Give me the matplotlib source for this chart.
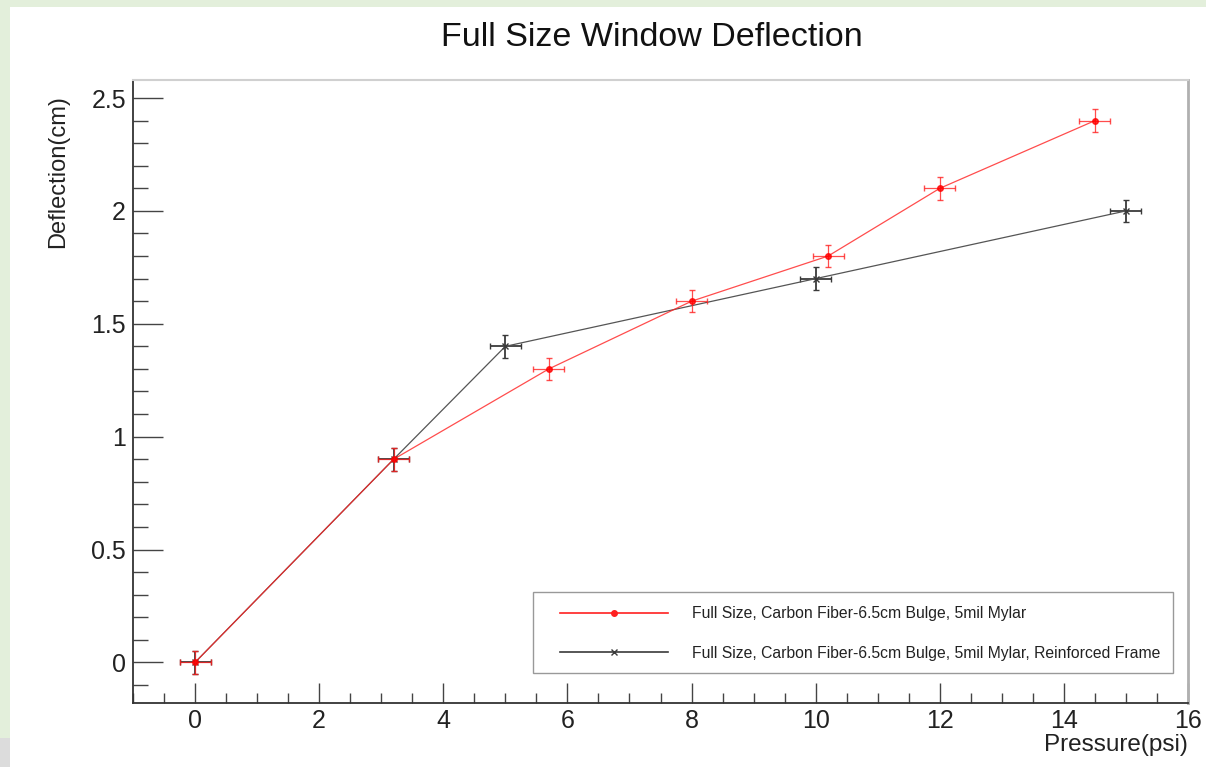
import matplotlib.pyplot as plt
from matplotlib.lines import Line2D
from matplotlib.patches import Rectangle
from matplotlib.ticker import MultipleLocator

plt.rcParams['font.family'] = ['Liberation Sans', 'DejaVu Sans']

# data
p_cf = [0, 3.2, 5.7, 8, 10.2, 12, 14.5]
d_cf = [0, 0.9, 1.3, 1.6, 1.8, 2.1, 2.4]
p_rf = [0, 3.2, 5, 10, 15]
d_rf = [0, 0.9, 1.4, 1.7, 2.0]
p_err = 0.25
d_err = 0.05

label_cf = 'Full Size, Carbon Fiber-6.5cm Bulge, 5mil Mylar'
label_rf = 'Full Size, Carbon Fiber-6.5cm Bulge, 5mil Mylar, Reinforced Frame'

fig = plt.figure(figsize=(12.06, 7.67), dpi=100)
fig.patch.set_facecolor('#e3efdb')
# white canvas inside the green border
fig.patches.append(Rectangle((10 / 1206, 0), 1, 1 - 7 / 767, transform=fig.transFigure,
                             facecolor='white', edgecolor='none', zorder=-10))
fig.patches.append(Rectangle((0, 0), 10 / 1206, 29 / 767, transform=fig.transFigure,
                             facecolor='#dcdcdc', edgecolor='none', zorder=-10))

ax = fig.add_axes([133 / 1206, 1 - 703 / 767, 1055 / 1206, 623 / 767])

red = '#ff2020'
blk = '#3a3a3a'

# black (reinforced frame) series
ax.errorbar(p_rf, d_rf, xerr=p_err, yerr=d_err, fmt='none', ecolor=blk,
            elinewidth=1.3, capsize=2, capthick=1, zorder=3)
ax.plot(p_rf, d_rf, color='#555555', lw=0.9, marker='x', ms=4, mew=1, mec=blk, zorder=3)

# red series
ax.errorbar(p_cf, d_cf, xerr=p_err, yerr=d_err, fmt='none', ecolor=red,
            elinewidth=0.9, capsize=2, capthick=1, alpha=0.8, zorder=4)
ax.plot(p_cf, d_cf, color=red, lw=0.9, alpha=0.8, marker='o', ms=4,
        mfc='red', mec='red', zorder=4)

ax.set_xlim(-1, 16)
ax.set_ylim(-0.18, 2.58)

ax.xaxis.set_major_locator(MultipleLocator(2))
ax.xaxis.set_minor_locator(MultipleLocator(0.5))
ax.yaxis.set_major_locator(MultipleLocator(0.5))
ax.yaxis.set_minor_locator(MultipleLocator(0.1))
ax.yaxis.set_major_formatter(plt.FuncFormatter(lambda v, _: f'{v:g}'))

ax.tick_params(axis='x', which='major', direction='in', length=14.4, width=1,
               color='#444444', labelsize=18, pad=4)
ax.tick_params(axis='x', which='minor', direction='in', length=7.2, width=1, color='#444444')
ax.tick_params(axis='y', which='major', direction='in', length=21.6, width=1,
               color='#444444', labelsize=18, pad=5)
ax.tick_params(axis='y', which='minor', direction='in', length=10.8, width=1, color='#444444')
ax.tick_params(top=False, right=False, which='both', labelcolor='#222222')

ax.spines['left'].set_color('#333333')
ax.spines['bottom'].set_color('#333333')
ax.spines['left'].set_linewidth(1.3)
ax.spines['bottom'].set_linewidth(1.3)
ax.spines['top'].set_color('#d0d0d0')
ax.spines['top'].set_linewidth(1.5)
ax.spines['right'].set_color('#b0b0b0')
ax.spines['right'].set_linewidth(2)

fig.text(652 / 1206, 1 - 38 / 767, 'Full Size Window Deflection', ha='center', va='center',
         fontsize=24.5, color='#111111')
ax.text(-0.071, 0.976, 'Deflection(cm)', rotation=90, ha='center', va='top',
        transform=ax.transAxes, fontsize=17, color='#222222')
ax.text(1.0, -0.068, 'Pressure(psi)', ha='right', va='center',
        transform=ax.transAxes, fontsize=17.5, color='#222222')

# legend frame drawn separately so the entries can sit further in from the left edge
ax.add_patch(Rectangle((0.379, 0.048), 0.607, 0.130, transform=ax.transAxes,
                       facecolor='white', edgecolor='#999999', lw=1, zorder=5))
handles = [Line2D([], [], color=red, lw=1.2, marker='o', ms=4),
           Line2D([], [], color=blk, lw=1.2, marker='x', ms=4)]
leg = ax.legend(handles, [label_cf, label_rf], loc='lower left',
                bbox_to_anchor=(0.3927, 0.048, 0.59, 0.130), mode='expand',
                borderaxespad=0, fontsize=11.3, handlelength=6.9, handletextpad=1.55,
                labelspacing=1.55, borderpad=0.8, frameon=False)
for t in leg.get_texts():
    t.set_color('#222222')
leg.set_zorder(6)

fig.savefig('out.png', dpi=100)
